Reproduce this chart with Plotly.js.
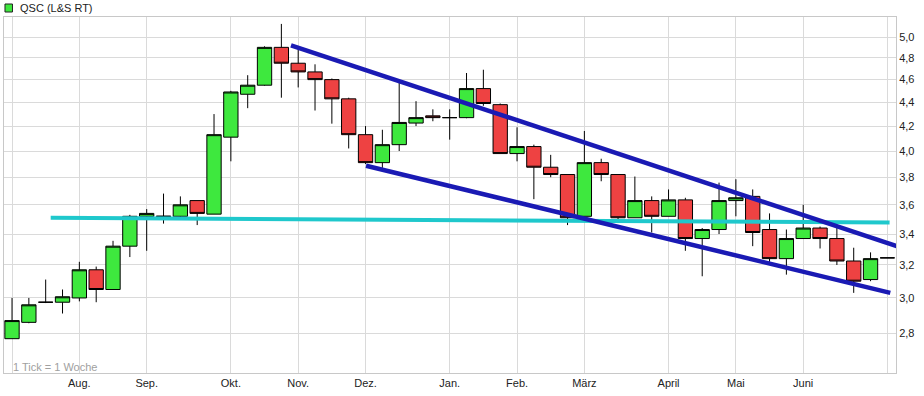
<!DOCTYPE html>
<html>
<head>
<meta charset="utf-8">
<script src="https://cdn.plot.ly/plotly-3.0.1.min.js"></script>
<style>html,body{margin:0;padding:0;background:#fff;}#chart{width:924px;height:396px;}</style>
</head>
<body>
<div id="chart"></div>
<script>
// weekly candles (week start dates)
const weeks = [
  "2013-07-08","2013-07-15","2013-07-22","2013-07-29","2013-08-05","2013-08-12","2013-08-19","2013-08-26",
  "2013-09-02","2013-09-09","2013-09-16","2013-09-23","2013-09-30","2013-10-07","2013-10-14","2013-10-21",
  "2013-10-28","2013-11-04","2013-11-11","2013-11-18","2013-11-25","2013-12-02","2013-12-09","2013-12-16",
  "2013-12-23","2013-12-30","2014-01-06","2014-01-13","2014-01-20","2014-01-27","2014-02-03","2014-02-10",
  "2014-02-17","2014-02-24","2014-03-03","2014-03-10","2014-03-17","2014-03-24","2014-03-31","2014-04-07",
  "2014-04-14","2014-04-21","2014-04-28","2014-05-05","2014-05-12","2014-05-19","2014-05-26","2014-06-02",
  "2014-06-09","2014-06-16","2014-06-23","2014-06-30","2014-07-07"
];
const openP = [2.77,2.86,2.975,2.975,3.00,3.17,3.05,3.32,3.52,3.52,3.52,3.63,3.535,4.11,4.47,4.55,
  4.90,4.75,4.67,4.60,4.43,4.13,3.91,4.05,4.225,4.285,4.27,4.27,4.52,4.38,3.98,4.035,
  3.875,3.82,3.52,3.91,3.82,3.51,3.63,3.52,3.635,3.37,3.43,3.63,3.66,3.43,3.24,3.37,
  3.44,3.37,3.225,3.11,3.245];
const highP = [3.00,3.00,3.11,3.05,3.22,3.19,3.355,3.53,3.57,3.68,3.66,3.63,4.30,4.50,4.64,4.91,
  5.13,4.88,4.74,4.61,4.44,4.20,4.17,4.57,4.41,4.34,4.34,4.66,4.69,4.39,4.19,4.05,
  3.97,3.82,4.16,3.94,3.82,3.805,3.66,3.71,3.65,3.44,3.76,3.785,3.71,3.54,3.43,3.60,
  3.45,3.44,3.31,3.28,3.245];
const lowP = [2.77,2.855,2.97,2.91,2.98,2.975,3.05,3.25,3.29,3.47,3.50,3.46,3.535,3.92,4.35,4.545,
  4.44,4.53,4.33,4.22,4.02,3.90,3.87,4.00,4.20,4.24,4.09,4.265,4.37,3.98,3.92,3.64,
  3.80,3.46,3.52,3.77,3.50,3.51,3.41,3.52,3.29,3.13,3.40,3.52,3.32,3.22,3.14,3.37,
  3.305,3.20,3.03,3.10,3.245];
const closeP = [2.87,2.96,2.975,3.007,3.17,3.05,3.32,3.52,3.54,3.52,3.60,3.54,4.13,4.49,4.55,4.90,
  4.75,4.67,4.60,4.43,4.13,3.91,4.05,4.23,4.27,4.27,4.27,4.52,4.39,3.98,4.035,3.875,
  3.82,3.51,3.91,3.82,3.51,3.63,3.52,3.635,3.37,3.43,3.63,3.65,3.41,3.24,3.37,3.44,
  3.37,3.225,3.10,3.24,3.245];

// hand-drawn trend lines (start/end)
const upperLineX = ["2013-11-01","2014-07-11"];
const upperLineY = [4.92,3.32];
const lowerLineX = ["2013-12-02 05:00","2014-07-08 05:00"];
const lowerLineY = [3.886,3.03];
const flatLineX = ["2013-07-24 02:00","2014-07-07 22:00"];
const flatLineY = [3.51,3.477];

// axis ticks
const monthTickVals = ["2013-07-08","2013-08-05","2013-09-02","2013-10-07","2013-11-04","2013-12-02",
  "2014-01-06","2014-02-03","2014-03-03","2014-04-07","2014-05-05","2014-06-02","2014-07-07"];
const monthTickText = ["","Aug.","Sep.","Okt.","Nov.","Dez.","Jan.","Feb.","März","April","Mai","Juni",""];
const priceTickVals = [2.8,3.0,3.2,3.4,3.6,3.8,4.0,4.2,4.4,4.6,4.8,5.0];
const priceTickText = ["2,8","3,0","3,2","3,4","3,6","3,8","4,0","4,2","4,4","4,6","4,8","5,0"];

const traces = [
  {
    type: "candlestick", x: weeks, open: openP, high: highP, low: lowP, close: closeP,
    increasing: {fillcolor: "#3ee83e", line: {color: "#000000", width: 1}},
    decreasing: {fillcolor: "#ee4242", line: {color: "#000000", width: 1}},
    whiskerwidth: 0, showlegend: false, hoverinfo: "skip"
  },
  {type: "scatter", mode: "lines", x: flatLineX, y: flatLineY,
   line: {color: "#1fc8cc", width: 4}, showlegend: false, hoverinfo: "skip"},
  {type: "scatter", mode: "lines", x: upperLineX, y: upperLineY,
   line: {color: "#1a1ab4", width: 4.5}, showlegend: false, hoverinfo: "skip"},
  {type: "scatter", mode: "lines", x: lowerLineX, y: lowerLineY,
   line: {color: "#1a1ab4", width: 4.5}, showlegend: false, hoverinfo: "skip"}
];

const layout = {
  width: 924, height: 396,
  margin: {l: 4, r: 28, t: 17, b: 23, pad: 0},
  paper_bgcolor: "#ffffff", plot_bgcolor: "#ffffff",
  font: {family: "Arial, 'Liberation Sans', sans-serif", size: 11, color: "#222"},
  showlegend: false,
  boxgap: 0.15, boxgroupgap: 0,
  xaxis: {
    type: "date",
    range: ["2013-07-04 16:00", "2014-07-10 14:00"],
    tickmode: "array", tickvals: monthTickVals, ticktext: monthTickText,
    showgrid: true, gridcolor: "#dadada", gridwidth: 1,
    showline: true, mirror: true, linecolor: "#c8c8c8", linewidth: 1,
    ticks: "", zeroline: false,
    rangeslider: {visible: false},
    tickfont: {size: 11, color: "#222"}
  },
  yaxis: {
    type: "log", side: "right",
    range: [Math.log10(2.59), Math.log10(5.20)],
    tickmode: "array", tickvals: priceTickVals, ticktext: priceTickText,
    showgrid: true, gridcolor: "#dadada", gridwidth: 1,
    showline: true, mirror: true, linecolor: "#c8c8c8", linewidth: 1,
    ticks: "", zeroline: false,
    tickfont: {size: 11, color: "#222"}
  },
  shapes: [
    {type: "rect", xref: "paper", yref: "paper", x0: 0.0011, x1: 0.0095, y0: 1.014, y1: 1.0365,
     fillcolor: "#3ee83e", line: {color: "#222", width: 1}}
  ],
  annotations: [
    {text: "QSC (L&S RT)", xref: "paper", yref: "paper", x: 0.0157, y: 1.0253,
     xanchor: "left", yanchor: "middle", showarrow: false, font: {size: 11, color: "#222"}},
    {text: "1 Tick = 1 Woche", xref: "paper", yref: "paper", x: 0.0075, y: 0.0177,
     xanchor: "left", yanchor: "middle", showarrow: false, font: {size: 11, color: "#a0a0a0"}}
  ]
};

Plotly.newPlot("chart", traces, layout, {displayModeBar: false, staticPlot: true});
</script>
</body>
</html>
